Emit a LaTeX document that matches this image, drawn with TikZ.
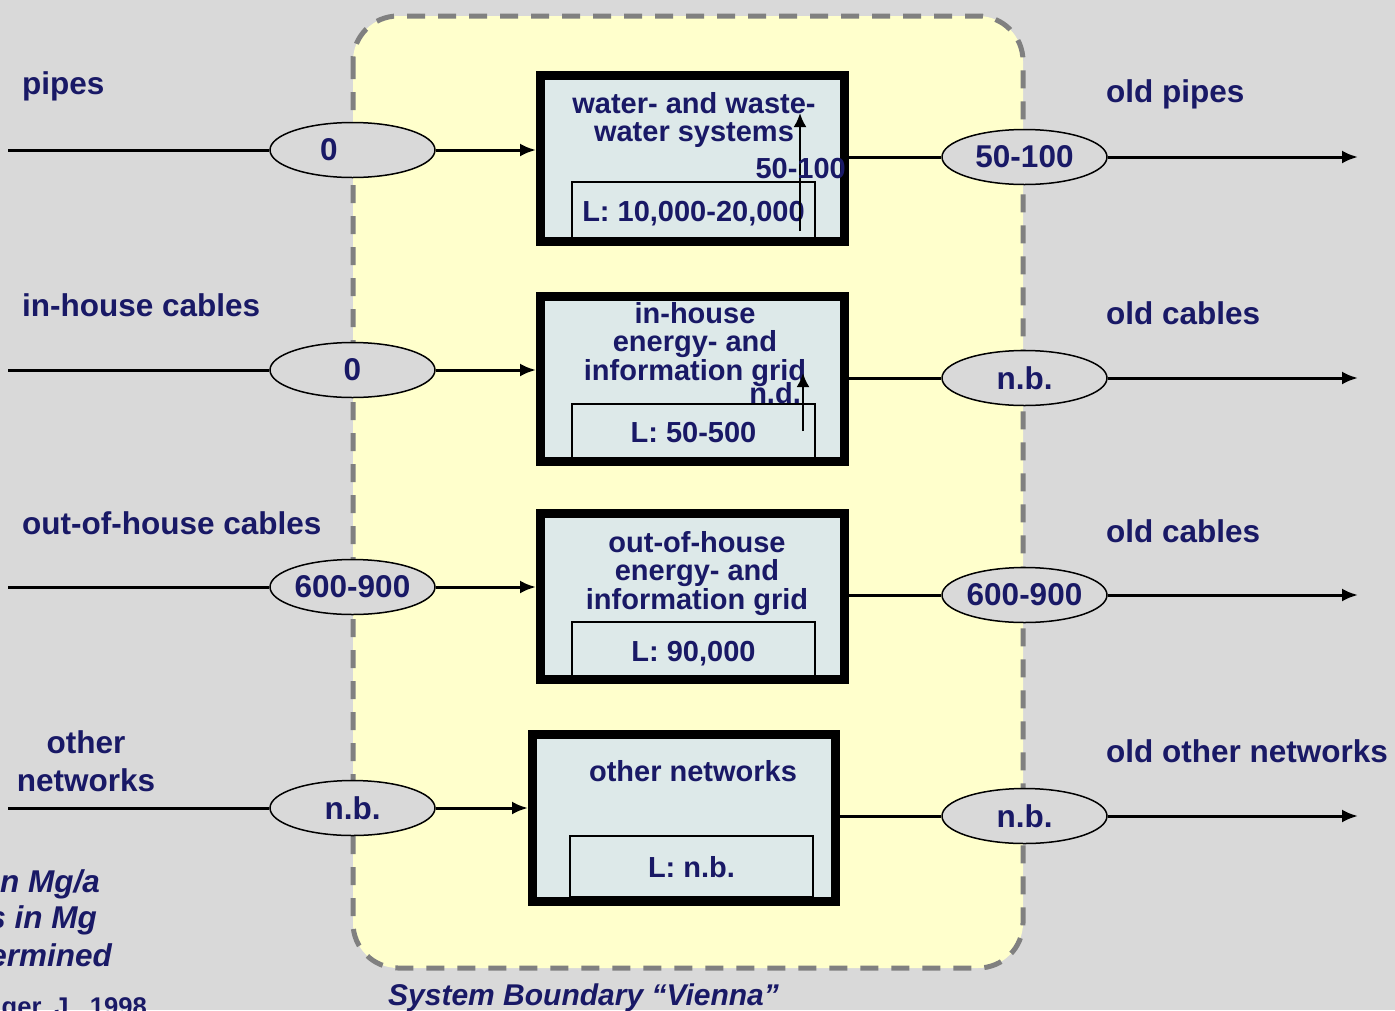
\documentclass[tikz,border=0pt]{standalone}
\usepackage{fontspec}
\setmainfont{Liberation Sans}
\usetikzlibrary{shapes.geometric,arrows.meta}
\definecolor{bg}{RGB}{217,217,217}
\definecolor{yel}{RGB}{255,255,204}
\definecolor{navy}{RGB}{25,25,102}
\definecolor{boxfill}{RGB}{221,233,233}
\definecolor{bnd}{RGB}{128,128,128}
\begin{document}
\begin{tikzpicture}[x=1pt,y=-1pt,
 lab/.style={font=\fontsize{31.5}{38}\selectfont\bfseries, text=navy, inner sep=0},
 ttl/.style={font=\fontsize{29}{28.5}\selectfont\bfseries, text=navy, inner sep=0, align=center},
 flowbox/.style={draw=black, line width=9pt, fill=boxfill, minimum width=304pt, inner sep=0},
 stockbox/.style={draw=black, line width=1.5pt, minimum width=243pt, inner sep=0, font=\fontsize{29}{28.5}\selectfont\bfseries, text=navy, text depth=0pt},
 val/.style={ellipse, draw=black, line width=1.5pt, fill=bg, minimum width=165pt, minimum height=55pt, inner sep=0, font=\fontsize{31.5}{34}\selectfont\bfseries, text=navy},
 flow/.style={line width=3pt, draw=black},
 arr/.style={flow, -{Latex[length=16pt,width=13pt]}},
 up/.style={line width=2.5pt, draw=black, -{Latex[length=14pt,width=13pt]}},
 note/.style={font=\fontsize{31.5}{34}\selectfont\bfseries\itshape, text=navy, inner sep=0}
]
\useasboundingbox (0,0) rectangle (1395,1010);
\fill[bg] (0,0) rectangle (1395,1010);
% system boundary
\draw[bnd, line width=5pt, dash pattern=on 18pt off 13pt, fill=yel, rounded corners=45pt] (353,16) rectangle (1023,968);

% process boxes
\node[flowbox, minimum height=166pt] (b1) at (692.5,158.5) {};
\node[flowbox, minimum height=165pt] (b2) at (692.5,379) {};
\node[flowbox, minimum height=166pt] (b3) at (692.5,596.5) {};
\node[flowbox, minimum width=303pt, minimum height=167pt] (b4) at (684,818) {};

% stock boxes
\node[stockbox, minimum height=59pt] (s1) at (693.5,211.5) {L: 10,000-20,000};
\node[stockbox, minimum height=56pt] (s2) at (693.5,432) {L: 50-500};
\node[stockbox, minimum height=58pt] (s3) at (693.5,651) {L: 90,000};
\node[stockbox, minimum height=61pt] (s4) at (691.5,866.5) {L: n.b.};

% titles
\node[ttl] (t1) at (694,120) {water- and waste-\\water systems};
\node[ttl] (t2) at (695,344.5) {in-house\\energy- and\\information grid};
\node[ttl] (t3) at (697,573.5) {out-of-house\\energy- and\\information grid};
\node[ttl, anchor=base] (t4) at (693,781) {other networks};

% internal flows
\coordinate (a1s) at (800,231);
\coordinate (a1e) at (800,113);
\draw[up] (a1s) -- (a1e);
\node[ttl, anchor=base east] (v1) at (846,178) {50-100};
\coordinate (a2s) at (803,431);
\coordinate (a2e) at (803,373);
\draw[up] (a2s) -- (a2e);
\node[ttl, anchor=base east] (v2) at (801,403) {n.d.};

% value ellipses
\node[val] (l1) at (352.5,150) {0\hspace*{47pt}};
\node[val] (l2) at (352.5,370) {0};
\node[val] (l3) at (352.5,587) {600-900};
\node[val] (l4) at (352.5,808) {n.b.};
\node[val] (r1) at (1024.5,157) {50-100};
\node[val] (r2) at (1024.5,378) {n.b.};
\node[val] (r3) at (1024.5,595) {600-900};
\node[val] (r4) at (1024.5,816) {n.b.};

% inputs
\coordinate (i1) at (8,150);
\coordinate (i2) at (8,370);
\coordinate (i3) at (8,587);
\coordinate (i4) at (8,808);
\draw[flow] (i1) -- (l1);
\draw[flow] (i2) -- (l2);
\draw[flow] (i3) -- (l3);
\draw[flow] (i4) -- (l4);
\draw[arr] (l1) -- (l1 -| b1.west);
\draw[arr] (l2) -- (l2 -| b2.west);
\draw[arr] (l3) -- (l3 -| b3.west);
\draw[arr] (l4) -- (l4 -| b4.west);

% outputs
\coordinate (o1) at (1358,157);
\coordinate (o2) at (1358,378);
\coordinate (o3) at (1358,595);
\coordinate (o4) at (1358,816);
\draw[flow] (r1 -| b1.east) -- (r1);
\draw[flow] (r2 -| b2.east) -- (r2);
\draw[flow] (r3 -| b3.east) -- (r3);
\draw[flow] (r4 -| b4.east) -- (r4);
\draw[arr] (r1) -- (o1);
\draw[arr] (r2) -- (o2);
\draw[arr] (r3) -- (o3);
\draw[arr] (r4) -- (o4);

% labels
\node[lab, anchor=base west] (p1) at (22,94) {pipes};
\node[lab, anchor=base west] (p2) at (22,316) {in-house cables};
\node[lab, anchor=base west] (p3) at (22,534) {out-of-house cables};
\node[lab, align=center] (p4) at (86,761.5) {other\\networks};
\node[lab, anchor=base west] (q1) at (1106,102) {old pipes};
\node[lab, anchor=base west] (q2) at (1106,324) {old cables};
\node[lab, anchor=base west] (q3) at (1106,542) {old cables};
\node[lab, anchor=base west] (q4) at (1106,762) {old other networks};

% notes
\node[note, anchor=base east] (n1) at (100,892) {n Mg/a};
\node[note, anchor=base east] (n2) at (97,928) {s in Mg};
\node[note, anchor=base east] (n3) at (112,966) {ermined};
\node[font=\fontsize{25.6}{28}\selectfont\bfseries, text=navy, inner sep=0, anchor=base east] (n4) at (147,1015) {ger, J., 1998};
\node[note, font=\fontsize{30}{34}\selectfont\bfseries\itshape, anchor=base west] (sb) at (388,1005) {System Boundary “Vienna”};
\end{tikzpicture}
\end{document}
